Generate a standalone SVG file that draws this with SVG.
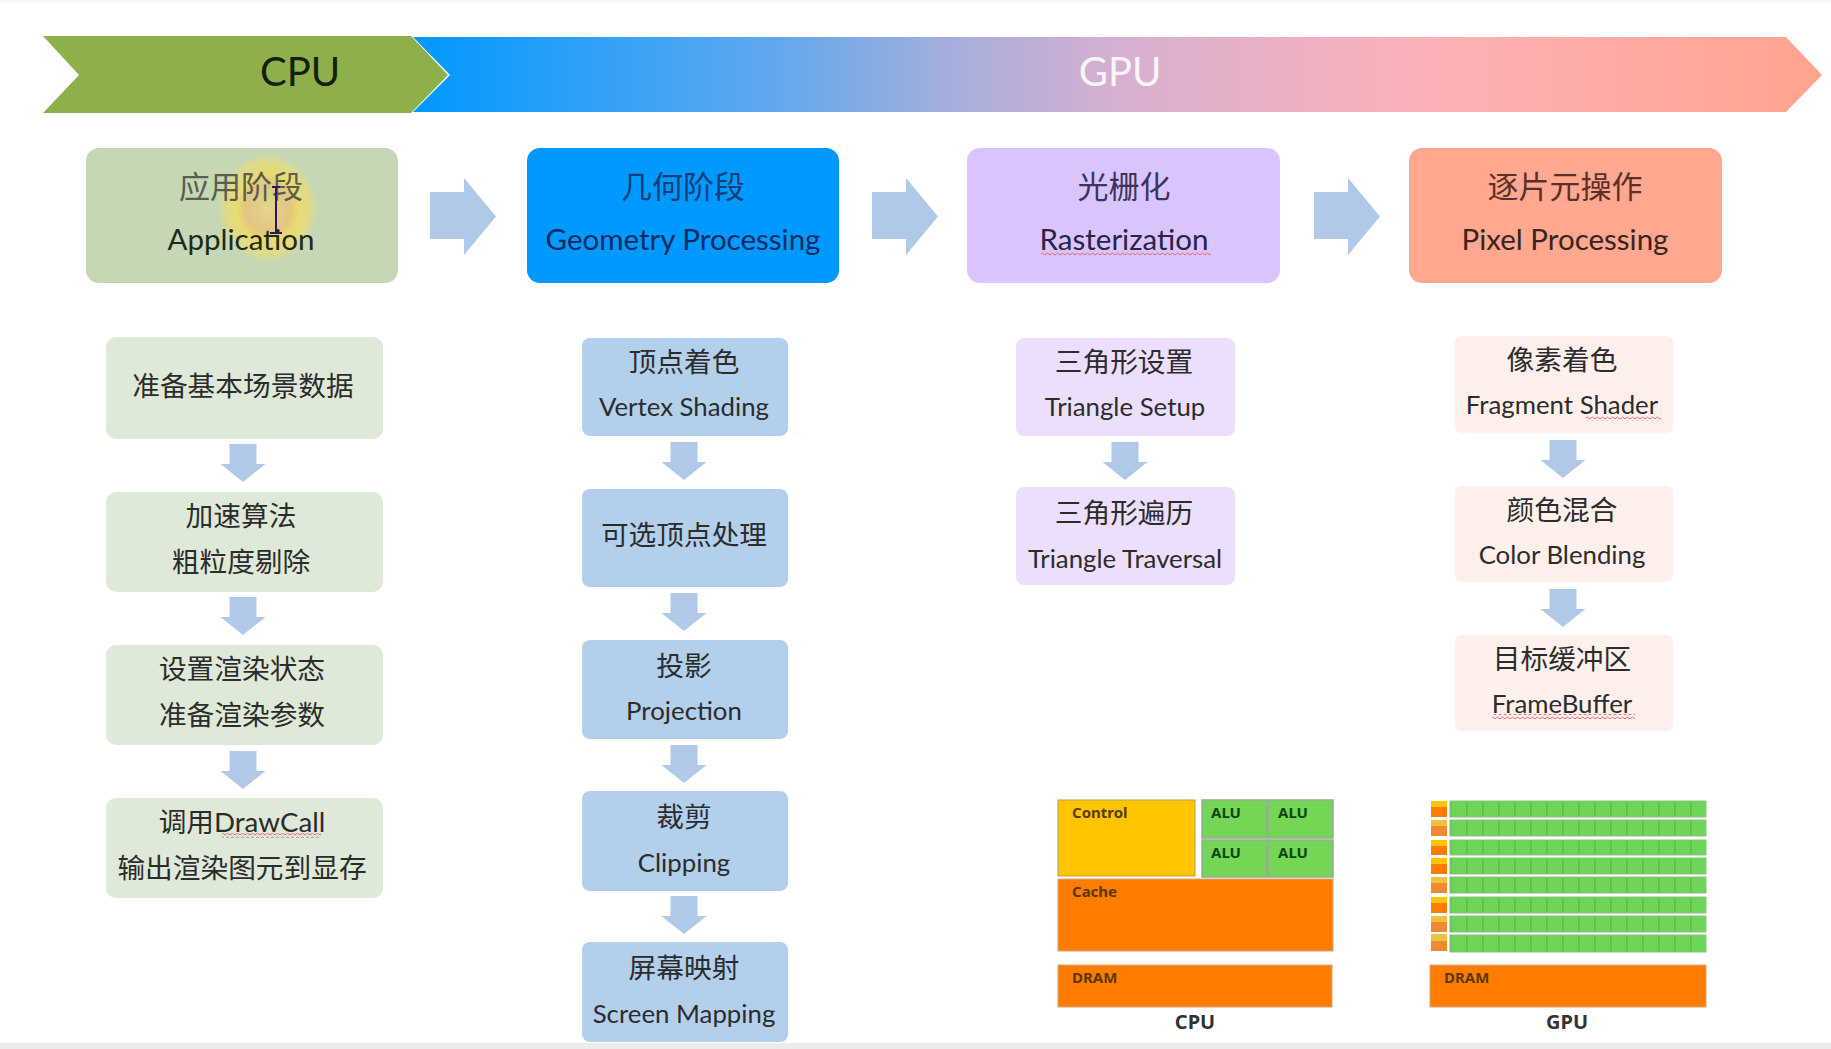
<svg xmlns="http://www.w3.org/2000/svg" width="1831" height="1049" viewBox="0 0 1831 1049">
  <style>
    text { font-family: "Lato", "Noto Sans CJK SC", "Noto Sans", sans-serif; text-anchor: middle; }
    .head { font-size: 31px; }
    .en { font-size: 29.500px; }
    .sub { font-size: 25.800px; fill: #2c2c2c; }
    .zh { font-size: 27.700px; fill: #2c2c2c; }
    .banner { font-size: 40px; }
    .chip { font-family: "Noto Sans", "Open Sans", sans-serif; font-size: 15px; font-weight: 700; text-anchor: start; fill: #5a3a00; }
    .alu { fill: #10450f; }
    .cap { font-family: "Noto Sans", "Open Sans", sans-serif; font-size: 20px; font-weight: 700; fill: #333; }
    .flow { fill: #b0c9e8; }
    .b1 { fill: #dfe9d7; } .b2 { fill: #b2cfec; } .b3 { fill: #ecdffd; } .b4 { fill: #fff0ec; }
    .org { fill: #ff7c00; stroke: #d8a878; stroke-width: 1; }
    .lime { fill: #73d655; stroke: #93ad8c; stroke-width: 1.5; }
    .grid { fill: url(#cells); stroke: #8fbf85; stroke-width: 1; }
    .squig { fill: url(#squiggle); }
  </style>
  <defs>
    <linearGradient id="gpuBar" x1="413" y1="0" x2="1822" y2="0" gradientUnits="userSpaceOnUse">
      <stop offset="0" stop-color="#0099ff"/>
      <stop offset="0.26" stop-color="#62a8ef"/>
      <stop offset="0.38" stop-color="#a4aedc"/>
      <stop offset="0.5" stop-color="#d6b0d0"/>
      <stop offset="0.72" stop-color="#fdb0b8"/>
      <stop offset="1" stop-color="#ffa48e"/>
    </linearGradient>
    <radialGradient id="glow">
      <stop offset="0" stop-color="#e4d688" stop-opacity="0.9"/>
      <stop offset="0.45" stop-color="#e8c278" stop-opacity="0.85"/>
      <stop offset="0.62" stop-color="#ecdc68" stop-opacity="0.9"/>
      <stop offset="0.85" stop-color="#ecdd70" stop-opacity="0.65"/>
      <stop offset="1" stop-color="#e8e070" stop-opacity="0"/>
    </radialGradient>
    <pattern id="cells" x="1450" y="0" width="16" height="8" patternUnits="userSpaceOnUse">
      <rect width="16" height="8" fill="#6dd558"/>
      <rect width="1.500" height="8" fill="#62b854"/>
    </pattern>
    <pattern id="squiggle" width="5" height="4" patternUnits="userSpaceOnUse">
      <path d="M0 3 L2.500 1 L5 3" fill="none" stroke="#dd6a78" stroke-width="1"/>
    </pattern>
    <path id="down" d="M-13.500 0 H13.500 V20 H22.500 L0 38 L-22.500 20 H-13.500 Z"/>
    <path id="right" d="M0 14 H34 V0 L66 38.500 L34 77 V61 H0 Z"/>
  </defs>

  <rect width="1831" height="1049" fill="#ffffff"/>
  <rect width="1831" height="3" fill="#f6f6f6"/>
  <rect y="1043" width="1831" height="6" fill="#ececec"/>

  <g id="band-gpu">
    <path d="M413 37 H1786 L1822 75 L1786 112 H413 L450 75 Z" fill="url(#gpuBar)"/>
    <text class="banner" x="1120" y="86" fill="#f6f6f6">GPU</text>
  </g>
  <g id="band-cpu">
    <path d="M43 36 H411 L448 75 L411 113 H43 L79 75 Z" fill="#8db04a"/>
    <text class="banner" x="300" y="86" fill="#14200a">CPU</text>
  </g>

  <g id="connectors">
    <use href="#right" class="flow" x="430" y="178"/>
    <use href="#right" class="flow" x="872" y="178"/>
    <use href="#right" class="flow" x="1314" y="178"/>
    <use href="#down" class="flow" x="243" y="444"/>
    <use href="#down" class="flow" x="243" y="597"/>
    <use href="#down" class="flow" x="243" y="751"/>
    <use href="#down" class="flow" x="684" y="442"/>
    <use href="#down" class="flow" x="684" y="593"/>
    <use href="#down" class="flow" x="684" y="745"/>
    <use href="#down" class="flow" x="684" y="896"/>
    <use href="#down" class="flow" x="1125" y="442"/>
    <use href="#down" class="flow" x="1563" y="440"/>
    <use href="#down" class="flow" x="1563" y="589"/>
  </g>

  <g id="stage-application">
    <rect x="86" y="148" width="312" height="135" rx="13" fill="#c5d7b5"/>
    <ellipse cx="268" cy="208" rx="50" ry="54" fill="url(#glow)"/>
    <text class="head" x="241" y="198" fill="#5c5c50">应用阶段</text>
    <text class="en" x="241" y="250" fill="#1e2a1a">Application</text>
    <path d="M272 187 H280 M276 187 V232 M270 233 H282" fill="none" stroke="#2a1a5a" stroke-width="2"/>
  </g>
  <g id="stage-geometry">
    <rect x="527" y="148" width="312" height="135" rx="13" fill="#0099ff"/>
    <text class="head" x="683" y="198" fill="#123f78">几何阶段</text>
    <text class="en" x="683" y="250" fill="#0c2c60">Geometry Processing</text>
  </g>
  <g id="stage-raster">
    <rect x="967" y="148" width="313" height="135" rx="13" fill="#dbc3fd"/>
    <text class="head" x="1124" y="198" fill="#3a3560">光栅化</text>
    <text class="en" x="1124" y="250" fill="#26244a">Rasterization</text>
    <rect class="squig" x="1041" y="251" width="170" height="5"/>
  </g>
  <g id="stage-pixel">
    <rect x="1409" y="148" width="313" height="135" rx="13" fill="#ffa78f"/>
    <text class="head" x="1565" y="198" fill="#5a3028">逐片元操作</text>
    <text class="en" x="1565" y="250" fill="#3a2420">Pixel Processing</text>
  </g>

  <g id="app-scene-data">
    <rect class="b1" x="106" y="337" width="277" height="102" rx="10"/>
    <text class="zh" x="243" y="396">准备基本场景数据</text>
  </g>
  <g id="app-culling">
    <rect class="b1" x="106" y="492" width="277" height="100" rx="10"/>
    <text class="zh" x="241" y="526">加速算法</text>
    <text class="zh" x="241" y="572">粗粒度剔除</text>
  </g>
  <g id="app-render-state">
    <rect class="b1" x="106" y="645" width="277" height="100" rx="10"/>
    <text class="zh" x="242" y="679">设置渲染状态</text>
    <text class="zh" x="242" y="725">准备渲染参数</text>
  </g>
  <g id="app-drawcall">
    <rect class="b1" x="106" y="798" width="277" height="100" rx="10"/>
    <text class="zh" x="242" y="832">调用DrawCall</text>
    <rect class="squig" x="222" y="833" width="99" height="5"/>
    <text class="zh" x="242" y="878">输出渲染图元到显存</text>
  </g>

  <g id="geo-vertex">
    <rect class="b2" x="582" y="338" width="206" height="98" rx="8"/>
    <text class="zh" x="684" y="372">顶点着色</text>
    <text class="sub" x="684" y="416">Vertex Shading</text>
  </g>
  <g id="geo-optional">
    <rect class="b2" x="582" y="489" width="206" height="98" rx="8"/>
    <text class="zh" x="684" y="545">可选顶点处理</text>
  </g>
  <g id="geo-projection">
    <rect class="b2" x="582" y="640" width="206" height="99" rx="8"/>
    <text class="zh" x="684" y="676">投影</text>
    <text class="sub" x="684" y="720">Projection</text>
  </g>
  <g id="geo-clipping">
    <rect class="b2" x="582" y="791" width="206" height="100" rx="8"/>
    <text class="zh" x="684" y="827">裁剪</text>
    <text class="sub" x="684" y="872">Clipping</text>
  </g>
  <g id="geo-screen">
    <rect class="b2" x="582" y="942" width="206" height="100" rx="8"/>
    <text class="zh" x="684" y="978">屏幕映射</text>
    <text class="sub" x="684" y="1023">Screen Mapping</text>
  </g>

  <g id="raster-setup">
    <rect class="b3" x="1016" y="338" width="219" height="98" rx="8"/>
    <text class="zh" x="1124" y="372">三角形设置</text>
    <text class="sub" x="1125" y="416">Triangle Setup</text>
  </g>
  <g id="raster-traversal">
    <rect class="b3" x="1016" y="487" width="219" height="98" rx="8"/>
    <text class="zh" x="1124" y="523">三角形遍历</text>
    <text class="sub" x="1125" y="568">Triangle Traversal</text>
  </g>

  <g id="pixel-fragment">
    <rect class="b4" x="1455" y="336" width="218" height="97" rx="6"/>
    <text class="zh" x="1562" y="370">像素着色</text>
    <text class="sub" x="1562" y="414">Fragment Shader</text>
    <rect class="squig" x="1586" y="416" width="75" height="5"/>
  </g>
  <g id="pixel-blending">
    <rect class="b4" x="1455" y="486" width="218" height="96" rx="6"/>
    <text class="zh" x="1562" y="520">颜色混合</text>
    <text class="sub" x="1562" y="564">Color Blending</text>
  </g>
  <g id="pixel-framebuffer">
    <rect class="b4" x="1455" y="635" width="218" height="96" rx="6"/>
    <text class="zh" x="1562" y="669">目标缓冲区</text>
    <text class="sub" x="1562" y="713">FrameBuffer</text>
    <rect class="squig" x="1492" y="714" width="143" height="5"/>
  </g>

  <g id="chip-cpu">
    <rect x="1058" y="800" width="137" height="76" fill="#ffc400" stroke="#b9a050" stroke-width="1"/>
    <text class="chip" x="1072" y="818">Control</text>
    <rect class="lime" x="1202" y="800" width="65" height="38"/>
    <rect class="lime" x="1268" y="800" width="65" height="38"/>
    <rect class="lime" x="1202" y="840" width="65" height="37"/>
    <rect class="lime" x="1268" y="840" width="65" height="37"/>
    <text class="chip alu" x="1211" y="818">ALU</text>
    <text class="chip alu" x="1278" y="818">ALU</text>
    <text class="chip alu" x="1211" y="858">ALU</text>
    <text class="chip alu" x="1278" y="858">ALU</text>
    <rect class="org" x="1058" y="879" width="275" height="72"/>
    <text class="chip" x="1072" y="897">Cache</text>
    <rect class="org" x="1058" y="965" width="274" height="42"/>
    <text class="chip" x="1072" y="983">DRAM</text>
    <text class="cap" x="1195" y="1029">CPU</text>
  </g>

  <g id="chip-gpu">
    <g id="gpu-rows">
      <rect class="grid" x="1450" y="801" width="256" height="16"/>
      <rect class="grid" x="1450" y="820" width="256" height="16"/>
      <rect class="grid" x="1450" y="840" width="256" height="15"/>
      <rect class="grid" x="1450" y="858" width="256" height="16"/>
      <rect class="grid" x="1450" y="877" width="256" height="16"/>
      <rect class="grid" x="1450" y="897" width="256" height="16"/>
      <rect class="grid" x="1450" y="916" width="256" height="16"/>
      <rect class="grid" x="1450" y="935" width="256" height="17"/>
    </g>
    <g id="gpu-control">
      <rect x="1431" y="801" width="16" height="6" fill="#ffc400"/><rect x="1431" y="807" width="16" height="10" fill="#ff7c00"/>
      <rect x="1431" y="820" width="16" height="6" fill="#f0c040"/><rect x="1431" y="826" width="16" height="10" fill="#ef8a30"/>
      <rect x="1431" y="840" width="16" height="6" fill="#ffc400"/><rect x="1431" y="846" width="16" height="9" fill="#ff7c00"/>
      <rect x="1431" y="858" width="16" height="6" fill="#ffc400"/><rect x="1431" y="864" width="16" height="10" fill="#ff7c00"/>
      <rect x="1431" y="877" width="16" height="6" fill="#f0c040"/><rect x="1431" y="883" width="16" height="10" fill="#ef8a30"/>
      <rect x="1431" y="897" width="16" height="6" fill="#ffc400"/><rect x="1431" y="903" width="16" height="10" fill="#ff7c00"/>
      <rect x="1431" y="916" width="16" height="6" fill="#f0c040"/><rect x="1431" y="922" width="16" height="10" fill="#ef8a30"/>
      <rect x="1431" y="934" width="16" height="7" fill="#f0c040"/><rect x="1431" y="941" width="16" height="10" fill="#ef8a30"/>
    </g>
    <rect class="org" x="1430" y="965" width="276" height="42"/>
    <text class="chip" x="1444" y="983">DRAM</text>
    <text class="cap" x="1567" y="1029">GPU</text>
  </g>
</svg>
